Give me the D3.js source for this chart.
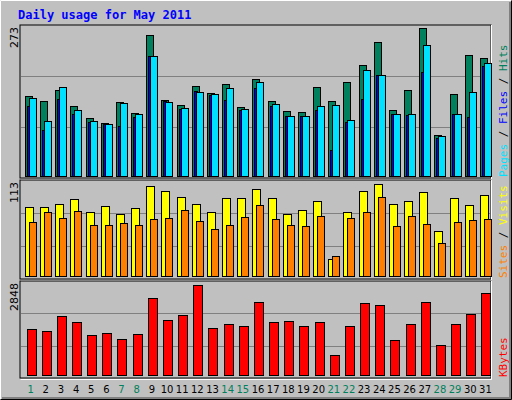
<!DOCTYPE html>
<html><head><meta charset="utf-8">
<script src="https://cdn.jsdelivr.net/npm/d3@7"></script>
<style>body{margin:0;background:#fff}</style>
</head><body>
<svg id="c" width="512" height="400"></svg>
<script>
const days = d3.range(1, 32);
const weekend = [1, 7, 8, 14, 15, 21, 22, 28, 29];
const hits = [147,137,157,129,107,98,135,116,255,139,130,165,152,167,127,176,137,120,118,163,137,172,201,242,122,157,267,77,150,220,214];
const files = [143,101,163,122,101,96,134,114,217,136,125,154,150,161,123,172,132,111,111,129,131,104,192,183,114,114,237,75,114,154,206];
const pages = [129,86,141,114,100,96,93,109,217,138,123,156,148,139,121,161,129,111,111,122,50,100,141,183,114,112,190,71,114,109,199];
const visits = [82,82,86,91,76,83,74,81,106,100,94,86,76,92,93,103,93,74,79,89,23,77,101,109,86,89,99,55,93,85,96];
const sites = [65,76,70,78,62,62,64,62,69,70,79,66,57,62,71,85,69,62,60,72,26,70,77,94,61,72,63,41,65,67,69];
const kbytes = [1443,1385,1818,1645,1270,1328,1154,1299,2338,1703,1847,2742,1472,1587,1530,2222,1645,1674,1530,1645,664,1530,2193,2136,1126,1587,2222,981,1587,1876,2482];
const maxHits = 273, maxVisits = 113, maxKB = 2848;

const svg = d3.select("#c");
const font = "'DejaVu Sans Mono', monospace";

// background frame
svg.append("rect").attr("width", 512).attr("height", 400).attr("fill", "#c0c0c0");
svg.append("path").attr("d", "M0.5,399.5V0.5H511.5").attr("stroke", "#fff").attr("fill", "none");
svg.append("path").attr("d", "M0.5,399.5H511.5V0.5").attr("stroke", "#000").attr("fill", "none");
svg.append("path").attr("d", "M2,398H510V2").attr("stroke", "#808080").attr("fill", "none").attr("stroke-width", 2);

svg.append("text").attr("x", 18).attr("y", 19).attr("font-family", font).attr("font-weight", "bold")
  .attr("font-size", 12).attr("fill", "#0000ff").text("Daily usage for May 2011");

const x = d3.scaleBand().domain(days).range([20, 490]);
const sw = x.bandwidth();

function panel(top, bottom, max, label) {
  const y = d3.scaleLinear().domain([0, max]).range([bottom, top]);
  const g = svg.append("g");
  g.append("rect").attr("x", 20).attr("y", top).attr("width", 471).attr("height", bottom - top)
    .attr("fill", "#c0c0c0").attr("stroke", "#000");
  g.append("path").attr("d", `M20.5,${bottom + 1.5}H491.5V${top}`).attr("stroke", "#fff").attr("fill", "none");
  [1 / 3, 2 / 3].forEach(f => g.append("line").attr("x1", 21).attr("x2", 490)
    .attr("y1", Math.round(y(max * f)) + 0.5).attr("y2", Math.round(y(max * f)) + 0.5).attr("stroke", "#808080"));
  g.append("text").attr("transform", `translate(18,${top + 2}) rotate(-90)`).attr("text-anchor", "end")
    .attr("font-family", "'DejaVu Sans', sans-serif").attr("font-size", 11).text(label);
  return y;
}

function bars(vals, y, x0, w, fill, bottom) {
  svg.append("g").selectAll("rect").data(vals).join("rect")
    .attr("x", (d, i) => Math.round(x(days[i]) + x0) + 0.5)
    .attr("y", d => Math.round(y(d)) + 0.5)
    .attr("width", w).attr("height", d => bottom - Math.round(y(d)))
    .attr("fill", fill).attr("stroke", "#000");
}

// top panel
const y1 = panel(25, 178, maxHits, "273");
bars(hits, y1, 5, 7, "#00805c", 176);
bars(pages, y1, 7, 3, "#0000ff", 176);
bars(files, y1, 9, 7, "#00e0ff", 176);

// middle panel
const y2 = panel(180, 279, maxVisits, "113");
bars(visits, y2, 5, 8, "#ffff00", 276);
bars(sites, y2, 9, 7, "#ff8000", 276);

// bottom panel
const y3 = panel(281, 378, maxKB, "2848");
bars(kbytes, y3, 6.5, 9, "#ff0000", 375);

// right side legends
function legend(yb, parts) {
  const t = svg.append("text").attr("transform", `translate(507,${yb}) rotate(-90)`)
    .attr("font-family", font).attr("font-size", 11);
  parts.forEach(([s, c]) => t.append("tspan").attr("fill", c).text(s));
}
legend(177, [["Pages", "#00e0ff"], [" / ", "#000"], ["Files", "#0000ff"], [" / ", "#000"], ["Hits", "#00805c"]]);
legend(278, [["Sites", "#ff8000"], [" / ", "#000"], ["Visits", "#ffff00"]]);
legend(377, [["KBytes", "#ff0000"]]);

// day labels
svg.append("g").selectAll("text").data(days).join("text")
  .attr("x", d => x(d) + sw / 2 + 3).attr("y", 393).attr("text-anchor", "middle")
  .attr("font-family", "'DejaVu Sans', sans-serif").attr("font-size", 10)
  .attr("fill", d => weekend.includes(d) ? "#00805c" : "#000").text(d => d);
</script>
</body></html>
